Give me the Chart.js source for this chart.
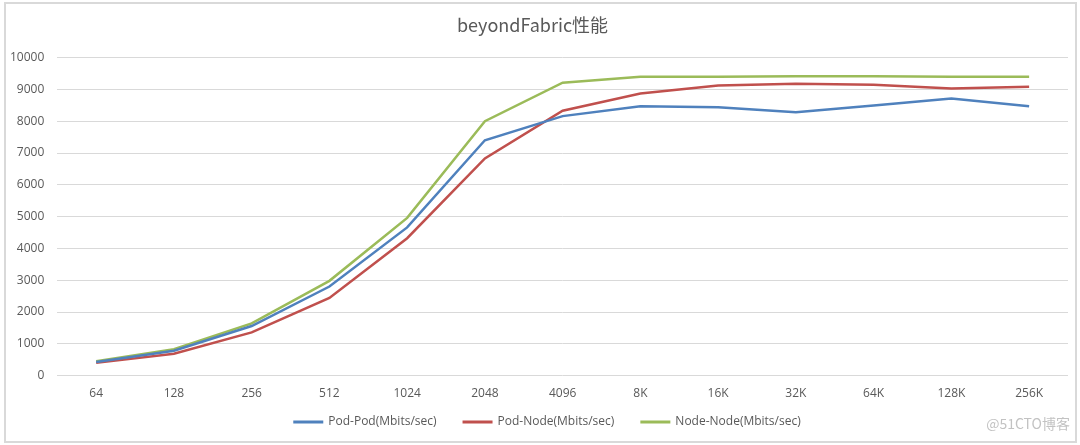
<!DOCTYPE html>
<html>
<head>
<meta charset="utf-8">
<script src="https://cdn.jsdelivr.net/npm/chart.js@4/dist/chart.umd.min.js"></script>
<style>
  html, body { margin: 0; padding: 0; background: #fff; }
  #wrap { width: 1080px; height: 445px; position: relative; }
</style>
</head>
<body>
<div id="wrap"><canvas id="c" width="1080" height="445"></canvas></div>
<script>
  // --- データ ---
  const labels = ["64", "128", "256", "512", "1024", "2048", "4096", "8K", "16K", "32K", "64K", "128K", "256K"];
  const podPod   = [430, 780, 1560, 2800, 4660, 7400, 8160, 8470, 8440, 8280, 8490, 8710, 8470];
  const podNode  = [400, 690, 1360, 2440, 4320, 6830, 8330, 8870, 9120, 9180, 9150, 9030, 9080];
  const nodeNode = [450, 830, 1640, 2980, 4960, 8000, 9210, 9400, 9400, 9410, 9410, 9400, 9400];
  const yTicks = [0, 1000, 2000, 3000, 4000, 5000, 6000, 7000, 8000, 9000, 10000];

  const TEXT = "#595959";
  const FONT = "'Open Sans', sans-serif";

  // 枠線・凡例・透かし
  const decor = {
    id: "decor",
    beforeDraw(chart) {
      const ctx = chart.ctx;
      ctx.save();
      ctx.fillStyle = "#fff";
      ctx.fillRect(0, 0, chart.width, chart.height);
      ctx.strokeStyle = "#d9d9d9";
      ctx.lineWidth = 2;
      ctx.strokeRect(5, 3, chart.width - 9, chart.height - 6);
      ctx.restore();
    },
    afterDraw(chart) {
      const ctx = chart.ctx;
      ctx.save();
      // 凡例（下部中央）
      ctx.font = "12px " + FONT;
      ctx.textBaseline = "middle";
      const boxW = 30, gap = 5, itemGap = 26, y = 422;
      const items = chart.data.datasets.map(d => ({ d, w: boxW + gap + ctx.measureText(d.label).width }));
      const total = items.reduce((s, it) => s + it.w, 0) + itemGap * (items.length - 1);
      let x = 547 - total / 2;
      items.forEach(it => {
        ctx.fillStyle = it.d.borderColor;
        ctx.fillRect(x, y - 1.5, boxW, 3);
        ctx.fillStyle = TEXT;
        ctx.textAlign = "left";
        ctx.fillText(it.d.label, x + boxW + gap, y);
        x += it.w + itemGap;
      });
      // 透かし
      ctx.font = "14px 'Noto Sans CJK SC', sans-serif";
      ctx.fillStyle = "rgba(120,120,120,0.45)";
      ctx.textAlign = "right";
      ctx.fillText("@51CTO博客", 1070, 424);
      ctx.restore();
    }
  };

  const ds = (label, data, color) => ({
    label, data,
    borderColor: color, backgroundColor: color,
    borderWidth: 2.5, pointRadius: 0, tension: 0, fill: false
  });

  new Chart(document.getElementById("c").getContext("2d"), {
    type: "line",
    data: {
      labels: labels,
      datasets: [
        ds("Pod-Pod(Mbits/sec)", podPod, "#4f81bd"),
        ds("Pod-Node(Mbits/sec)", podNode, "#c0504d"),
        ds("Node-Node(Mbits/sec)", nodeNode, "#9bbb59")
      ]
    },
    options: {
      responsive: false,
      animation: false,
      devicePixelRatio: 1,
      layout: { padding: { left: -3, right: 12, top: 8, bottom: 41 } },
      scales: {
        x: {
          offset: true,
          grid: { display: false },
          border: { display: false },
          ticks: { color: TEXT, font: { size: 12, family: FONT }, maxRotation: 0, padding: 3 }
        },
        y: {
          min: 0, max: 10000,
          afterBuildTicks: (axis) => { axis.ticks = yTicks.map(v => ({ value: v })); },
          grid: { color: "#d9d9d9", lineWidth: 1, drawTicks: false },
          border: { display: false },
          ticks: {
            color: TEXT, font: { size: 12, family: FONT }, padding: 13,
            callback: (v) => String(v)
          }
        }
      },
      plugins: {
        title: {
          display: true,
          text: "beyondFabric性能",
          color: TEXT,
          font: { size: 18, weight: "normal", family: "'Noto Sans CJK SC', sans-serif" },
          padding: { top: 6, bottom: 22 }
        },
        legend: { display: false },
        tooltip: { enabled: false }
      }
    },
    plugins: [decor]
  });
</script>
</body>
</html>
